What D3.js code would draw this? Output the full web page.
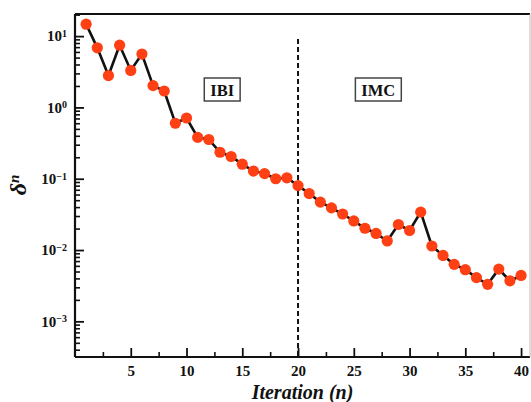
<!DOCTYPE html>
<html lang="en">
<head>
<meta charset="utf-8">
<title>Convergence of delta n</title>
<script src="https://cdn.jsdelivr.net/npm/d3@7/dist/d3.min.js"></script>
<style>
  body { margin: 0; background: #fff; }
  svg text { font-family: "Liberation Serif", "DejaVu Serif", serif; font-weight: bold; fill: #111; }
  .domain { display: none; }
</style>
</head>
<body>
<svg width="531" height="402"></svg>
<script>
// data
var iterations = d3.range(1, 41);
var delta = [14.7, 6.85, 2.8, 7.45, 3.3, 5.6, 2.02, 1.7, 0.6, 0.71,
             0.38, 0.355, 0.235, 0.205, 0.16, 0.128, 0.118, 0.1, 0.103, 0.08,
             0.062, 0.047, 0.039, 0.032, 0.0256, 0.0202, 0.0171, 0.0134, 0.0228, 0.0188,
             0.034, 0.0114, 0.0084, 0.0063, 0.0053, 0.0041, 0.0033, 0.0054, 0.0037, 0.0044];
var xTicks = [5, 10, 15, 20, 25, 30, 35, 40];
var yDecades = [-3, -2, -1, 0, 1];
var phaseSplit = 20;
var phaseLabels = [{ name: "IBI", at: 13.2 }, { name: "IMC", at: 27.2 }];

var svg = d3.select("svg");
var pLeft = 75, pRight = 530, pTop = 14, pBottom = 357;

var x = d3.scaleLinear().domain([0, 40.8]).range([pLeft, pRight]);
var y = d3.scaleLog().domain([Math.pow(10, -3.5), Math.pow(10, 1.31)]).range([pBottom, pTop]);

// minor ticks
var xMinor = d3.range(2.5, 41, 5);
var yMinor = [];
for (var e = -4; e <= 1; e++) {
  for (var m = 2; m <= 9; m++) {
    var v = m * Math.pow(10, e);
    if (v >= y.domain()[0] && v <= y.domain()[1]) yMinor.push(v);
  }
}

svg.append("g")
  .attr("transform", "translate(0," + pBottom + ")")
  .call(d3.axisBottom(x).tickValues(xMinor).tickSize(-5).tickFormat(""))
  .selectAll("line").attr("stroke", "#111").attr("stroke-width", 1.6);

svg.append("g")
  .attr("transform", "translate(" + pLeft + ",0)")
  .call(d3.axisLeft(y).tickValues(yMinor).tickSize(-5).tickFormat(""))
  .selectAll("line").attr("stroke", "#111").attr("stroke-width", 1.6);

// major x axis
var gx = svg.append("g")
  .attr("transform", "translate(0," + pBottom + ")")
  .call(d3.axisBottom(x).tickValues(xTicks).tickSize(-9).tickPadding(8));
gx.selectAll("line").attr("stroke", "#111").attr("stroke-width", 1.8);
gx.selectAll("text").style("font-size", "15px").attr("fill", "#111");

// major y axis with 10^n labels
var gy = svg.append("g")
  .attr("transform", "translate(" + pLeft + ",0)")
  .call(d3.axisLeft(y).tickValues(yDecades.map(function(k) { return Math.pow(10, k); }))
    .tickSize(-9).tickPadding(8).tickFormat(function() { return ""; }));
gy.selectAll("line").attr("stroke", "#111").attr("stroke-width", 1.8);
gy.selectAll("text").each(function(d) {
  var t = d3.select(this).style("font-size", "15px").attr("fill", "#111");
  t.append("tspan").text("10");
  t.append("tspan").attr("dy", "-0.45em").style("font-size", "10px")
    .text(String(Math.round(Math.log10(d))).replace("-", "\u2212"));
});

// frame
svg.append("line").attr("x1", pLeft).attr("x2", pRight).attr("y1", pTop).attr("y2", pTop)
  .attr("stroke", "#111").attr("stroke-width", 2.2);
svg.append("line").attr("x1", pLeft).attr("x2", pRight).attr("y1", pBottom).attr("y2", pBottom)
  .attr("stroke", "#111").attr("stroke-width", 2.2);
svg.append("line").attr("x1", pLeft).attr("x2", pLeft).attr("y1", pTop).attr("y2", pBottom)
  .attr("stroke", "#111").attr("stroke-width", 2.2);
svg.append("line").attr("x1", pRight).attr("x2", pRight).attr("y1", pTop).attr("y2", pBottom)
  .attr("stroke", "#bbb").attr("stroke-width", 1);

// phase divider
svg.append("line")
  .attr("x1", x(phaseSplit)).attr("x2", x(phaseSplit))
  .attr("y1", 39).attr("y2", pBottom)
  .attr("stroke", "#111").attr("stroke-width", 2)
  .attr("stroke-dasharray", "5,3");

// phase labels in boxes
phaseLabels.forEach(function(p) {
  var g = svg.append("g");
  var t = g.append("text")
    .attr("x", x(p.at)).attr("y", 95.5)
    .attr("text-anchor", "middle")
    .style("font-size", "16.5px")
    .text(p.name);
  var bb = t.node().getBBox();
  g.insert("rect", "text")
    .attr("x", bb.x - 6).attr("y", 78)
    .attr("width", bb.width + 12).attr("height", 23)
    .attr("fill", "#fff").attr("stroke", "#444").attr("stroke-width", 1.5);
});

// series
var pts = iterations.map(function(n, i) { return [n, delta[i]]; });
svg.append("path")
  .datum(pts)
  .attr("fill", "none")
  .attr("stroke", "#111")
  .attr("stroke-width", 2.6)
  .attr("d", d3.line().x(function(d) { return x(d[0]); }).y(function(d) { return y(d[1]); }));

svg.selectAll("circle.pt")
  .data(pts)
  .enter().append("circle")
  .attr("class", "pt")
  .attr("cx", function(d) { return x(d[0]); })
  .attr("cy", function(d) { return y(d[1]); })
  .attr("r", 5.6)
  .attr("fill", "#ff4014");

// axis titles
svg.append("text")
  .attr("x", x(20.4)).attr("y", 399)
  .attr("text-anchor", "middle")
  .style("font-size", "20px").style("font-style", "italic")
  .text("Iteration (n)");

var yl = svg.append("text")
  .attr("transform", "translate(26,185) rotate(-90)")
  .attr("text-anchor", "middle")
  .style("font-size", "24px").style("font-style", "italic");
yl.append("tspan").text("\u03b4");
yl.append("tspan").attr("dy", "-0.5em").style("font-size", "15px").text("n");
</script>
</body>
</html>
